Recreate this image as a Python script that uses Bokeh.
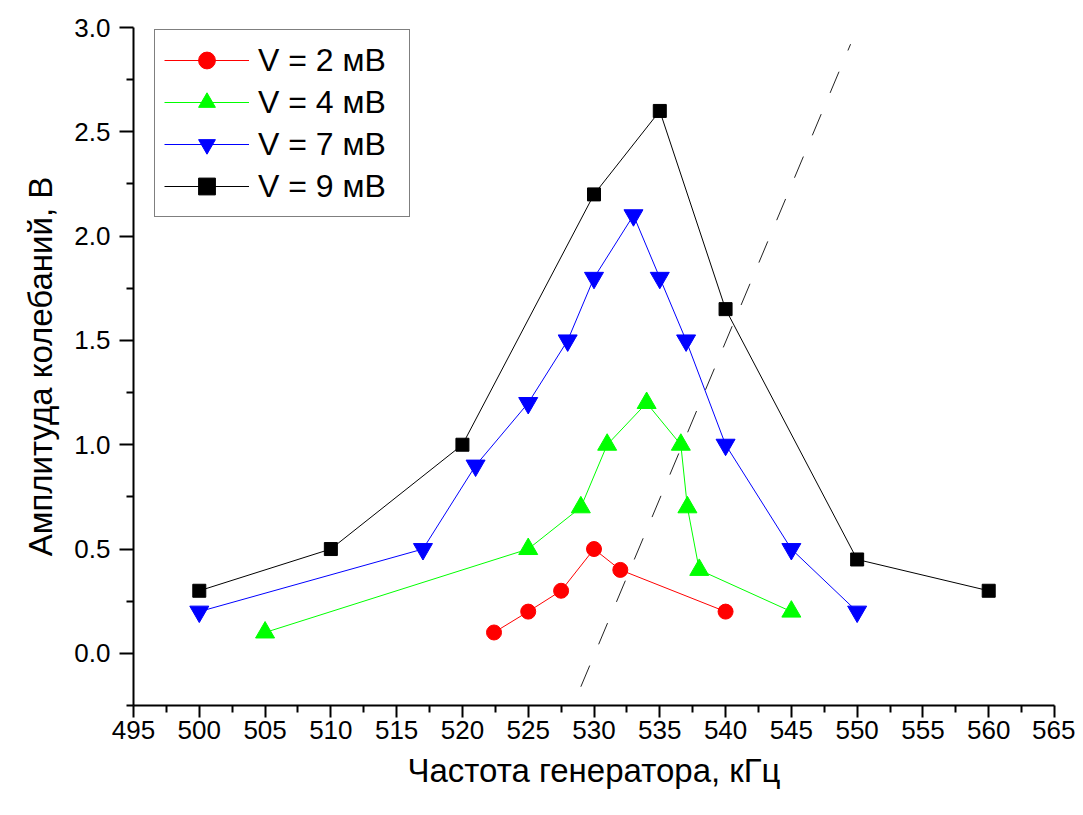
from bokeh.plotting import figure
from bokeh.models import Range1d, FixedTicker, PrintfTickFormatter, Legend, LegendItem
from bokeh.embed import file_html
from bokeh.resources import INLINE

# Data (frequency kHz, amplitude V)
x_2mv = [522.4, 525, 527.5, 530, 532, 540]
y_2mv = [0.1, 0.2, 0.3, 0.5, 0.4, 0.2]

x_4mv = [505, 525, 529, 531, 534, 536.6, 537.1, 538, 545]
y_4mv = [0.1, 0.5, 0.7, 1.0, 1.2, 1.0, 0.7, 0.4, 0.2]

x_7mv = [500, 517, 521, 525, 528, 530, 533, 535, 537, 540, 545, 550]
y_7mv = [0.2, 0.5, 0.9, 1.2, 1.5, 1.8, 2.1, 1.8, 1.5, 1.0, 0.5, 0.2]

x_9mv = [500, 510, 520, 530, 535, 540, 550, 560]
y_9mv = [0.3, 0.5, 1.0, 2.2, 2.6, 1.65, 0.45, 0.3]

dash_x = [529.0, 549.5]
dash_y = [-0.16, 2.92]

labels = ["V = 2 мВ", "V = 4 мВ", "V = 7 мВ", "V = 9 мВ"]
x_ticks = list(range(495, 566, 5))
y_ticks = [0.0, 0.5, 1.0, 1.5, 2.0, 2.5, 3.0]

FONT = "Liberation Sans"

p = figure(width=1075, height=807, output_backend="svg", toolbar_location=None,
           x_range=Range1d(495, 565), y_range=Range1d(-0.25, 3.0),
           min_border_left=133, min_border_right=21, min_border_top=27, min_border_bottom=102)
p.outline_line_color = None
p.xgrid.visible = False
p.ygrid.visible = False
p.background_fill_color = "white"
p.border_fill_color = "white"

# dashed guide line
p.line(dash_x, dash_y, line_color="#222222", line_width=1, line_dash="23 23")

specs = [
    (x_2mv, y_2mv, "#FF0000", "circle", 15),
    (x_4mv, y_4mv, "#00FF00", "triangle", 19),
    (x_7mv, y_7mv, "#0000FF", "inverted_triangle", 19),
    (x_9mv, y_9mv, "#000000", "square", 13),
]
items = []
for (xs, ys, col, mk, sz), lab in zip(specs, labels):
    l = p.line(xs, ys, line_color=col, line_width=1)
    s = p.scatter(xs, ys, marker=mk, size=sz, fill_color=col, line_color=col)
    items.append(LegendItem(label=lab, renderers=[l, s]))

legend = Legend(items=items, location=(21, 488), margin=0, padding=9,
                glyph_width=85, glyph_height=42, spacing=0, label_standoff=9,
                label_width=142, label_height=42,
                label_text_font=FONT, label_text_font_size="32px",
                label_text_color="black",
                border_line_color="black", border_line_width=1.5,
                background_fill_alpha=1.0)
p.add_layout(legend, "center")

for ax in (p.xaxis[0], p.yaxis[0]):
    ax.axis_line_width = 2
    ax.major_tick_line_width = 2
    ax.minor_tick_line_width = 2
    ax.major_tick_in = 0
    ax.minor_tick_in = 0
    ax.major_label_text_font = FONT
    ax.major_label_text_font_size = "26px"
    ax.axis_label_text_font = FONT
    ax.axis_label_text_font_size = "33px"
    ax.axis_label_text_font_style = "normal"
    ax.major_label_text_color = "black"
    ax.axis_label_text_color = "black"

p.xaxis[0].ticker = FixedTicker(ticks=x_ticks, minor_ticks=[t + 2.5 for t in x_ticks[:-1]])
p.xaxis[0].major_tick_out = 12
p.xaxis[0].minor_tick_out = 7
p.xaxis[0].major_label_standoff = 3
p.xaxis[0].axis_label = "Частота генератора, кГц"
p.xaxis[0].axis_label_standoff = 10

p.yaxis[0].ticker = FixedTicker(ticks=y_ticks, minor_ticks=[-0.25] + [t + 0.25 for t in y_ticks[:-1]])
p.yaxis[0].formatter = PrintfTickFormatter(format="%.1f")
p.yaxis[0].major_tick_out = 14
p.yaxis[0].minor_tick_out = 7
p.yaxis[0].major_label_standoff = 9
p.yaxis[0].axis_label = "Амплитуда колебаний, В"
p.yaxis[0].axis_label_standoff = 12

open("out.html", "w").write(file_html(p, INLINE))
